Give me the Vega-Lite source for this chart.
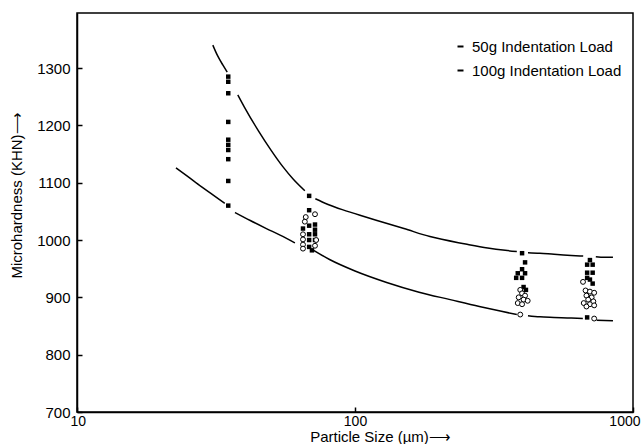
{
  "$schema": "https://vega.github.io/schema/vega-lite/v6.json",
  "width": 556,
  "height": 399,
  "autosize": {"type": "none"},
  "padding": {"left": 77, "top": 13, "right": 11, "bottom": 32},
  "background": "white",
  "config": {
    "font": "Liberation Sans",
    "view": {"stroke": "black", "strokeWidth": 1.5},
    "axis": {
      "grid": false,
      "domainColor": "black",
      "domainWidth": 1.5,
      "tickColor": "black",
      "tickWidth": 1.5,
      "labelColor": "black",
      "titleColor": "black",
      "labelFontSize": 15,
      "titleFontSize": 15,
      "titleFontWeight": "normal",
      "labelFont": "Liberation Sans",
      "titleFont": "Liberation Sans"
    },
    "legend": {
      "labelFont": "Liberation Sans",
      "labelFontSize": 15,
      "labelColor": "black"
    }
  },
  "datasets": {
    "points": [
      {"load": "50g", "size": 35, "hardness": 1285},
      {"load": "50g", "size": 35, "hardness": 1276},
      {"load": "50g", "size": 35, "hardness": 1256},
      {"load": "50g", "size": 35, "hardness": 1206},
      {"load": "50g", "size": 35, "hardness": 1175},
      {"load": "50g", "size": 35, "hardness": 1166},
      {"load": "50g", "size": 35, "hardness": 1157},
      {"load": "50g", "size": 35, "hardness": 1141},
      {"load": "50g", "size": 35, "hardness": 1103},
      {"load": "50g", "size": 35, "hardness": 1060},
      {"load": "50g", "size": 68.4, "hardness": 1077},
      {"load": "50g", "size": 68.4, "hardness": 1052},
      {"load": "50g", "size": 65, "hardness": 1020},
      {"load": "50g", "size": 68.4, "hardness": 1025},
      {"load": "50g", "size": 71.8, "hardness": 1027},
      {"load": "50g", "size": 71.8, "hardness": 1018},
      {"load": "50g", "size": 68.4, "hardness": 1010},
      {"load": "50g", "size": 71.8, "hardness": 1010},
      {"load": "50g", "size": 68.4, "hardness": 1000},
      {"load": "50g", "size": 71.8, "hardness": 1000},
      {"load": "50g", "size": 68.4, "hardness": 988},
      {"load": "50g", "size": 70, "hardness": 982},
      {"load": "50g", "size": 399, "hardness": 977},
      {"load": "50g", "size": 409, "hardness": 961},
      {"load": "50g", "size": 399, "hardness": 949},
      {"load": "50g", "size": 385, "hardness": 942},
      {"load": "50g", "size": 409, "hardness": 942},
      {"load": "50g", "size": 380, "hardness": 934},
      {"load": "50g", "size": 399, "hardness": 934},
      {"load": "50g", "size": 412, "hardness": 913},
      {"load": "50g", "size": 404, "hardness": 918},
      {"load": "50g", "size": 700, "hardness": 965},
      {"load": "50g", "size": 684, "hardness": 957},
      {"load": "50g", "size": 716, "hardness": 957},
      {"load": "50g", "size": 684, "hardness": 943},
      {"load": "50g", "size": 716, "hardness": 943},
      {"load": "50g", "size": 684, "hardness": 934},
      {"load": "50g", "size": 700, "hardness": 931},
      {"load": "50g", "size": 716, "hardness": 924},
      {"load": "50g", "size": 706, "hardness": 900},
      {"load": "50g", "size": 684, "hardness": 865},
      {"load": "100g", "size": 71.8, "hardness": 1045},
      {"load": "100g", "size": 66.5, "hardness": 1040},
      {"load": "100g", "size": 66, "hardness": 1032},
      {"load": "100g", "size": 65, "hardness": 1010},
      {"load": "100g", "size": 65, "hardness": 1001},
      {"load": "100g", "size": 65, "hardness": 992},
      {"load": "100g", "size": 65, "hardness": 985},
      {"load": "100g", "size": 71.8, "hardness": 990},
      {"load": "100g", "size": 72.5, "hardness": 1000},
      {"load": "100g", "size": 393, "hardness": 913},
      {"load": "100g", "size": 399, "hardness": 907},
      {"load": "100g", "size": 409, "hardness": 903},
      {"load": "100g", "size": 388, "hardness": 900},
      {"load": "100g", "size": 404, "hardness": 896},
      {"load": "100g", "size": 418, "hardness": 894},
      {"load": "100g", "size": 385, "hardness": 890},
      {"load": "100g", "size": 399, "hardness": 888},
      {"load": "100g", "size": 393, "hardness": 870},
      {"load": "100g", "size": 661, "hardness": 927},
      {"load": "100g", "size": 675, "hardness": 912},
      {"load": "100g", "size": 700, "hardness": 910},
      {"load": "100g", "size": 725, "hardness": 908},
      {"load": "100g", "size": 680, "hardness": 903},
      {"load": "100g", "size": 710, "hardness": 900},
      {"load": "100g", "size": 690, "hardness": 896},
      {"load": "100g", "size": 720, "hardness": 893},
      {"load": "100g", "size": 665, "hardness": 890},
      {"load": "100g", "size": 700, "hardness": 888},
      {"load": "100g", "size": 680, "hardness": 884},
      {"load": "100g", "size": 725, "hardness": 886},
      {"load": "100g", "size": 725, "hardness": 863}
    ],
    "curves": [
      {"load": "50g Indentation Load", "seg": "a1", "size": 30.8, "hardness": 1340},
      {"load": "50g Indentation Load", "seg": "a1", "size": 32, "hardness": 1322},
      {"load": "50g Indentation Load", "seg": "a1", "size": 33.5, "hardness": 1305},
      {"load": "50g Indentation Load", "seg": "a1", "size": 34.7, "hardness": 1293},
      {"load": "50g Indentation Load", "seg": "a2", "size": 37.9, "hardness": 1253},
      {"load": "50g Indentation Load", "seg": "a2", "size": 40, "hardness": 1232},
      {"load": "50g Indentation Load", "seg": "a2", "size": 45, "hardness": 1190},
      {"load": "50g Indentation Load", "seg": "a2", "size": 50, "hardness": 1156},
      {"load": "50g Indentation Load", "seg": "a2", "size": 55, "hardness": 1128},
      {"load": "50g Indentation Load", "seg": "a2", "size": 60, "hardness": 1106},
      {"load": "50g Indentation Load", "seg": "a2", "size": 66, "hardness": 1086},
      {"load": "50g Indentation Load", "seg": "a3", "size": 72, "hardness": 1072},
      {"load": "50g Indentation Load", "seg": "a3", "size": 80, "hardness": 1062},
      {"load": "50g Indentation Load", "seg": "a3", "size": 90, "hardness": 1053},
      {"load": "50g Indentation Load", "seg": "a3", "size": 100, "hardness": 1046},
      {"load": "50g Indentation Load", "seg": "a3", "size": 120, "hardness": 1034},
      {"load": "50g Indentation Load", "seg": "a3", "size": 150, "hardness": 1020},
      {"load": "50g Indentation Load", "seg": "a3", "size": 186, "hardness": 1006},
      {"load": "50g Indentation Load", "seg": "a3", "size": 250, "hardness": 993},
      {"load": "50g Indentation Load", "seg": "a3", "size": 300, "hardness": 986},
      {"load": "50g Indentation Load", "seg": "a3", "size": 347, "hardness": 982},
      {"load": "50g Indentation Load", "seg": "a3", "size": 382, "hardness": 980},
      {"load": "50g Indentation Load", "seg": "a4", "size": 419, "hardness": 978},
      {"load": "50g Indentation Load", "seg": "a4", "size": 462, "hardness": 977},
      {"load": "50g Indentation Load", "seg": "a4", "size": 520, "hardness": 975},
      {"load": "50g Indentation Load", "seg": "a4", "size": 600, "hardness": 973},
      {"load": "50g Indentation Load", "seg": "a4", "size": 662, "hardness": 972},
      {"load": "50g Indentation Load", "seg": "a5", "size": 735, "hardness": 971},
      {"load": "50g Indentation Load", "seg": "a5", "size": 790, "hardness": 970},
      {"load": "50g Indentation Load", "seg": "a5", "size": 847, "hardness": 970},
      {"load": "100g Indentation Load", "seg": "b1", "size": 22.7, "hardness": 1126},
      {"load": "100g Indentation Load", "seg": "b1", "size": 25, "hardness": 1111},
      {"load": "100g Indentation Load", "seg": "b1", "size": 28, "hardness": 1093},
      {"load": "100g Indentation Load", "seg": "b1", "size": 31, "hardness": 1078},
      {"load": "100g Indentation Load", "seg": "b1", "size": 34, "hardness": 1064},
      {"load": "100g Indentation Load", "seg": "b2", "size": 37, "hardness": 1048},
      {"load": "100g Indentation Load", "seg": "b2", "size": 42, "hardness": 1034},
      {"load": "100g Indentation Load", "seg": "b2", "size": 48, "hardness": 1020},
      {"load": "100g Indentation Load", "seg": "b2", "size": 54, "hardness": 1008},
      {"load": "100g Indentation Load", "seg": "b2", "size": 60.8, "hardness": 995},
      {"load": "100g Indentation Load", "seg": "b3", "size": 71, "hardness": 982},
      {"load": "100g Indentation Load", "seg": "b3", "size": 81, "hardness": 966},
      {"load": "100g Indentation Load", "seg": "b3", "size": 100, "hardness": 946},
      {"load": "100g Indentation Load", "seg": "b3", "size": 130, "hardness": 926},
      {"load": "100g Indentation Load", "seg": "b3", "size": 170, "hardness": 909},
      {"load": "100g Indentation Load", "seg": "b3", "size": 220, "hardness": 896},
      {"load": "100g Indentation Load", "seg": "b3", "size": 280, "hardness": 884},
      {"load": "100g Indentation Load", "seg": "b3", "size": 333, "hardness": 876},
      {"load": "100g Indentation Load", "seg": "b3", "size": 382, "hardness": 870},
      {"load": "100g Indentation Load", "seg": "b4", "size": 419, "hardness": 868},
      {"load": "100g Indentation Load", "seg": "b4", "size": 462, "hardness": 866},
      {"load": "100g Indentation Load", "seg": "b4", "size": 520, "hardness": 865},
      {"load": "100g Indentation Load", "seg": "b4", "size": 600, "hardness": 864},
      {"load": "100g Indentation Load", "seg": "b4", "size": 660, "hardness": 863},
      {"load": "100g Indentation Load", "seg": "b5", "size": 740, "hardness": 860},
      {"load": "100g Indentation Load", "seg": "b5", "size": 847, "hardness": 859}
    ]
  },
  "encoding": {
    "x": {
      "field": "size",
      "type": "quantitative",
      "scale": {"type": "log", "domain": [10, 1000], "nice": false},
      "axis": {
        "values": [10, 100, 1000],
        "format": "d",
        "title": "Particle Size (µm)⟶",
        "tickSize": -5,
        "labelFontSize": 14,
        "labelPadding": 7,
        "labelFlush": true,
        "labelFlushOffset": 7,
        "titleX": 303,
        "titleY": 17
      }
    },
    "y": {
      "field": "hardness",
      "type": "quantitative",
      "scale": {"domain": [700, 1396], "nice": false, "zero": false},
      "axis": {
        "values": [700, 800, 900, 1000, 1100, 1200, 1300],
        "format": "d",
        "title": "Microhardness (KHN)⟶",
        "tickSize": -5,
        "labelPadding": 12,
        "titlePadding": 12,
        "titleY": 182
      }
    }
  },
  "layer": [
    {
      "data": {"name": "curves"},
      "mark": {"type": "line", "strokeWidth": 1.5, "interpolate": "monotone"},
      "encoding": {
        "detail": {"field": "seg"},
        "color": {
          "field": "load",
          "type": "nominal",
          "scale": {"domain": ["50g Indentation Load", "100g Indentation Load"], "range": ["black", "black"]},
          "legend": {
            "title": null,
            "orient": "none",
            "legendX": 376,
            "legendY": 26,
            "symbolType": "stroke",
            "symbolSize": 36,
            "symbolStrokeWidth": 2,
            "rowPadding": 8,
            "labelOffset": 4
          }
        }
      }
    },
    {
      "data": {"name": "points"},
      "transform": [{"filter": "datum.load === '50g'"}],
      "mark": {"type": "square", "size": 20, "color": "black", "opacity": 1}
    },
    {
      "data": {"name": "points"},
      "transform": [{"filter": "datum.load === '100g'"}],
      "mark": {"type": "point", "shape": "circle", "size": 24, "filled": false, "fill": "white", "fillOpacity": 1, "stroke": "black", "strokeWidth": 1, "opacity": 1}
    }
  ]
}
